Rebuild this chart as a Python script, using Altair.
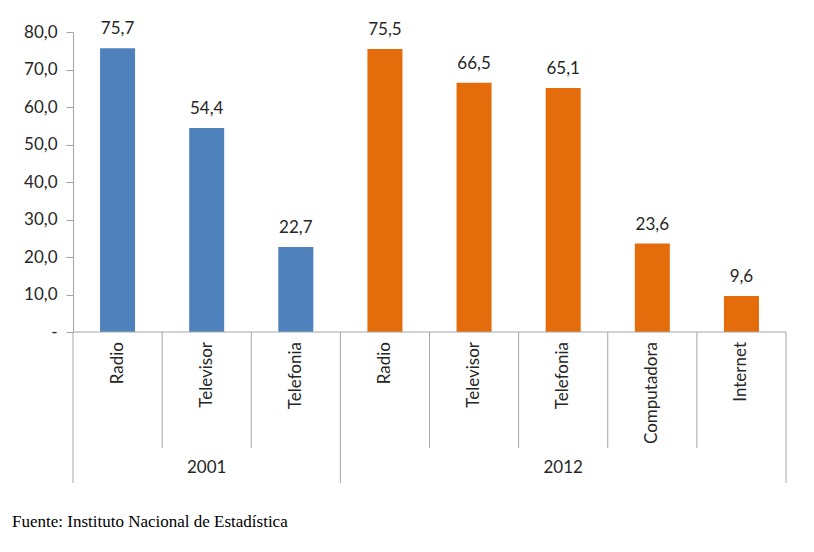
import altair as alt
import pandas as pd

groups = ["2001", "2001", "2001", "2012", "2012", "2012", "2012", "2012"]
categories = ["Radio", "Televisor", "Telefonia", "Radio", "Televisor", "Telefonia", "Computadora", "Internet"]
values = [75.7, 54.4, 22.7, 75.5, 66.5, 65.1, 23.6, 9.6]
value_labels = ["75,7", "54,4", "22,7", "75,5", "66,5", "65,1", "23,6", "9,6"]
year_labels = ["2001", "2012"]
year_centers = [1.5, 5.5]
inner_bounds = [1, 2, 4, 5, 6, 7]
outer_bounds = [0, 3, 8]
y_ticks = [0, 10, 20, 30, 40, 50, 60, 70, 80]
colors = ["#4F81BD", "#E46C0A"]
footnote = "Fuente: Instituto Nacional de Estadística"

FONT = "Lato"
GRAY = "#A6A6A6"
TXT = "#262626"

df = pd.DataFrame({
    "group": groups,
    "cat": categories,
    "val": values,
    "lab": value_labels,
    "pos": [i + 0.5 for i in range(len(categories))],
})

xs = alt.Scale(domain=[0, 8], nice=False, zero=False, padding=0)
ys = alt.Scale(domain=[0, 80], nice=False, zero=True)
y_axis = alt.Axis(
    values=y_ticks, title=None, grid=False, labelOverlap=False,
    labelExpr="datum.value == 0 ? '-' : replace(format(datum.value, '.1f'), '.', ',')",
    domainColor=GRAY, tickColor=GRAY, tickSize=7, labelPadding=9,
    labelFont=FONT, labelFontSize=17, labelColor=TXT)

base = alt.Chart(df)

bars = base.mark_bar(size=35).encode(
    x=alt.X("pos:Q", scale=xs, axis=None),
    y=alt.Y("val:Q", scale=ys, axis=y_axis),
    color=alt.Color("group:N", scale=alt.Scale(domain=year_labels, range=colors), legend=None),
)

vlabels = base.mark_text(baseline="alphabetic", dy=-14, font=FONT, fontSize=17, color=TXT).encode(
    x=alt.X("pos:Q", scale=xs, axis=None), y=alt.Y("val:Q", scale=ys, axis=y_axis), text="lab:N"
)

catlabels = base.mark_text(angle=270, align="right", baseline="middle", font=FONT, fontSize=17, color=TXT).encode(
    x=alt.X("pos:Q", scale=xs, axis=None), y=alt.value(310), text="cat:N"
)

baseline_df = pd.DataFrame({"x0": [0], "x1": [8], "y": [0]})
baseline = alt.Chart(baseline_df).mark_rule(color=GRAY, strokeWidth=1).encode(
    x=alt.X("x0:Q", scale=xs, axis=None), x2="x1:Q", y=alt.Y("y:Q", scale=ys, axis=y_axis)
)

inner = alt.Chart(pd.DataFrame({"b": inner_bounds})).mark_rule(color=GRAY, strokeWidth=1).encode(
    x=alt.X("b:Q", scale=xs, axis=None), y=alt.value(300), y2=alt.value(416)
)
outer = alt.Chart(pd.DataFrame({"b": outer_bounds})).mark_rule(color=GRAY, strokeWidth=1).encode(
    x=alt.X("b:Q", scale=xs, axis=None), y=alt.value(300), y2=alt.value(451)
)

years = alt.Chart(pd.DataFrame({"yr": year_labels, "c": year_centers})).mark_text(
    baseline="middle", font=FONT, fontSize=17, color=TXT).encode(
    x=alt.X("c:Q", scale=xs, axis=None), y=alt.value(436), text="yr:N"
)

foot = alt.Chart(pd.DataFrame({"t": [footnote]})).mark_text(
    align="left", baseline="middle", font="Liberation Serif", fontSize=17, color="#000000").encode(
    x=alt.value(-61), y=alt.value(490), text="t:N"
)

chart = alt.layer(bars, vlabels, baseline, inner, outer, catlabels, years, foot).properties(
    width=713, height=300,
    autosize=alt.AutoSizeParams(type="none"),
    padding={"left": 65, "top": 24, "right": 20, "bottom": 212},
    background="white",
).configure_view(stroke=None)

chart.save("out.html", embed_options={"renderer": "svg", "actions": False})
